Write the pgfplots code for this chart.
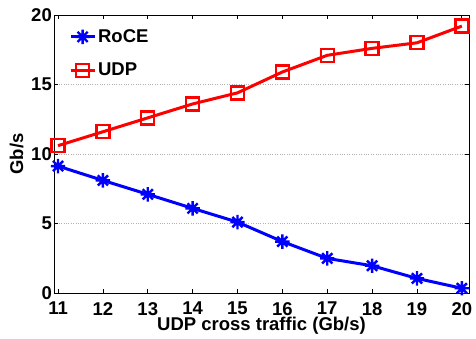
\documentclass[border=0pt]{standalone}
\usepackage{pgfplots}
\pgfplotsset{compat=1.18}
\usepackage{fontspec}
\setmainfont{Liberation Sans}

% eight-armed asterisk marker
\pgfdeclareplotmark{star8}{%
  \pgfpathmoveto{\pgfqpoint{-\pgfplotmarksize}{0pt}}\pgfpathlineto{\pgfqpoint{\pgfplotmarksize}{0pt}}%
  \pgfpathmoveto{\pgfqpoint{0pt}{-\pgfplotmarksize}}\pgfpathlineto{\pgfqpoint{0pt}{\pgfplotmarksize}}%
  \pgfpathmoveto{\pgfqpoint{-0.707\pgfplotmarksize}{-0.707\pgfplotmarksize}}\pgfpathlineto{\pgfqpoint{0.707\pgfplotmarksize}{0.707\pgfplotmarksize}}%
  \pgfpathmoveto{\pgfqpoint{-0.707\pgfplotmarksize}{0.707\pgfplotmarksize}}\pgfpathlineto{\pgfqpoint{0.707\pgfplotmarksize}{-0.707\pgfplotmarksize}}%
  \pgfusepathqstroke}

\pgfplotstableread{
x  roce udp
11 9.13 10.6
12 8.10 11.6
13 7.10 12.6
14 6.09 13.6
15 5.10 14.4
16 3.70 15.9
17 2.49 17.1
18 1.96 17.6
19 1.05 18.0
20 0.34 19.2
}\datatable

\newcommand{\chartfont}{\fontsize{18.5}{21}\selectfont\bfseries}

\begin{document}
\begin{tikzpicture}
\begin{axis}[
  name=main,
  scale only axis,
  width=415pt, height=278pt,
  xmin=10.91, xmax=20.16, ymin=0, ymax=20,
  xtick={11,...,20}, ytick={0,5,10,15,20},
  tick align=inside,
  major tick length=4pt,
  axis line style={line width=0.9pt},
  tick style={line width=0.8pt, black},
  ymajorgrids,
  grid style={dotted, gray!60, line width=0.7pt},
  /pgf/number format/assume math mode=true,
  ticklabel style={font=\chartfont},
  label style={font=\chartfont},
  xticklabel style={inner sep=0pt, anchor=north, yshift=-9pt},
  yticklabel style={inner sep=0pt, anchor=east, xshift=-2pt},
  xlabel={UDP cross traffic (Gb/s)},
  ylabel={Gb/s},
  xlabel style={at={(axis description cs:0.5,0)}, anchor=north, inner sep=0pt, yshift=-24pt},
  ylabel style={at={(axis description cs:0,0.5)}, anchor=center, inner sep=0pt, yshift=37.5pt},
  legend cell align=left,
  legend style={draw=none, fill=none, at={(0.036,0.955)}, anchor=north west,
    font=\chartfont, row sep=15pt, inner xsep=0pt, inner ysep=0pt,
    nodes={inner sep=2pt}},
  legend image code/.code={%
    \draw[mark repeat=2, mark phase=2, #1] plot coordinates {(0pt,0pt) (12pt,0pt) (24pt,0pt)};},
]
\addplot[blue, line width=3pt, mark=star8, mark size=7.2pt,
  mark options={line width=2.4pt, solid}] table[x=x, y=roce] {\datatable};
\addlegendentry{RoCE}
\addplot[red, line width=3pt, mark=square, mark size=6.5pt,
  mark options={line width=2.4pt, solid, fill=none}] table[x=x, y=udp] {\datatable};
\addlegendentry{UDP}
\end{axis}
% page frame: 476 x 339 with the plot box placed inside it
\useasboundingbox (main.south west) ++(-54pt,-46pt) rectangle ++(476pt,339pt);
\end{tikzpicture}
\end{document}
